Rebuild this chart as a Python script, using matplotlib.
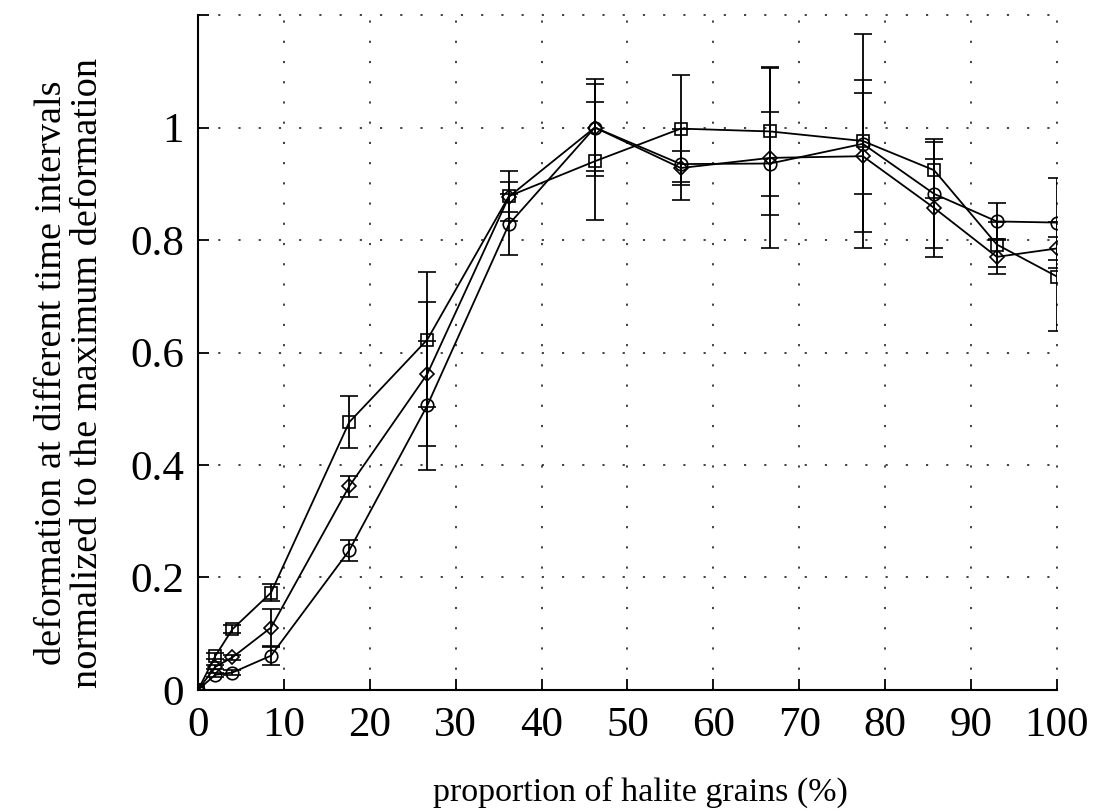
from __future__ import annotations

import matplotlib

matplotlib.use("Agg")

from matplotlib import pyplot as plt


OUTPUT_FIGURE = "out.png"

halite_pct = [0, 2, 4, 8.5, 17.6, 26.7, 36.2, 46.2, 56.2, 66.6, 77.4, 85.7, 93.0, 100]

square_values = [0, 0.060, 0.108, 0.173, 0.476, 0.623, 0.878, 0.940, 0.998, 0.993, 0.976, 0.924, 0.792, 0.735]
square_errors = [0, 0.005, 0.007, 0.015, 0.046, 0.120, 0.045, 0.105, 0.095, 0.115, 0.190, 0.050, 0.040, 0.097]

diamond_values = [0, 0.041, 0.058, 0.111, 0.362, 0.562, 0.877, 1.000, 0.928, 0.946, 0.949, 0.857, 0.770, 0.785]
diamond_errors = [0, 0.004, 0.005, 0.033, 0.019, 0.128, 0.027, 0.078, 0.030, 0.160, 0.135, 0.087, 0.030, 0.020]

circle_values = [0, 0.027, 0.031, 0.061, 0.248, 0.506, 0.828, 1.000, 0.935, 0.936, 0.971, 0.882, 0.833, 0.831]
circle_errors = [0, 0.004, 0.004, 0.016, 0.018, 0.115, 0.054, 0.086, 0.063, 0.092, 0.090, 0.097, 0.032, 0.080]

x_ticks = [0, 10, 20, 30, 40, 50, 60, 70, 80, 90, 100]
y_ticks = [0, 0.2, 0.4, 0.6, 0.8, 1.0, 1.2]
y_tick_labels = ["0", "0.2", "0.4", "0.6", "0.8", "1", ""]

x_label = "proportion of halite grains (%)"
y_label = "deformation at different time intervals\nnormalized to the maximum deformation"


def draw_series(axis, values, errors, marker, size) -> None:
    axis.errorbar(
        halite_pct,
        values,
        yerr=errors,
        color="black",
        linewidth=1.3,
        marker=marker,
        markersize=size,
        markerfacecolor="none",
        markeredgecolor="black",
        markeredgewidth=1.2,
        ecolor="black",
        elinewidth=1.3,
        capsize=6.5,
        capthick=1.5,
        zorder=3,
    )


def main() -> None:
    plt.rcParams["font.family"] = ["Liberation Serif", "DejaVu Serif"]
    figure = plt.figure(figsize=(10.97, 8.11), dpi=100)
    axis = figure.add_axes([0.1805, 0.1492, 0.783, 0.8323])

    draw_series(axis, square_values, square_errors, "s", 8)
    draw_series(axis, diamond_values, diamond_errors, "D", 7)
    draw_series(axis, circle_values, circle_errors, "o", 9)

    axis.set_xlim(0, 100)
    axis.set_ylim(0, 1.2)
    axis.set_xticks(x_ticks)
    axis.set_yticks(y_ticks)
    axis.set_yticklabels(y_tick_labels)
    axis.tick_params(direction="in", length=8, width=1.3, labelsize=31, color="black")
    axis.tick_params(axis="x", pad=12)
    axis.tick_params(axis="y", pad=10)

    for spine in ("top", "right"):
        axis.spines[spine].set_visible(False)
    for spine in ("left", "bottom"):
        axis.spines[spine].set_linewidth(1.5)

    for x_value in x_ticks[1:]:
        axis.axvline(x_value, color="#333333", linewidth=1.3, linestyle=(0, (1.2, 10)), zorder=1, clip_on=False)
    for y_value in y_ticks[1:]:
        axis.axhline(y_value, color="#333333", linewidth=1.3, linestyle=(0, (1.2, 10)), zorder=1, clip_on=False)

    axis.set_xlabel(x_label, fontsize=24.5)
    axis.xaxis.set_label_coords(0.515, -0.128)
    axis.set_ylabel(y_label, fontsize=27.5, linespacing=1.05)
    axis.yaxis.set_label_coords(-0.108, 0.47)

    figure.savefig(OUTPUT_FIGURE, dpi=100)
    plt.close(figure)


if __name__ == "__main__":
    main()
